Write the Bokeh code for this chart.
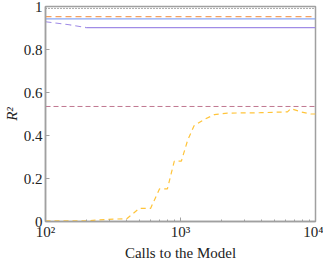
from bokeh.plotting import figure
from bokeh.models import FixedTicker, LogTicker, Range1d, CustomJSTickFormatter
from bokeh.embed import file_html
from bokeh.resources import INLINE

# ---- data ----
x_span = [100, 10000]
dotted_top = [0.991, 0.991]
orange_dash = [0.953, 0.953]
blue_solid = [0.942, 0.942]
purple_dash_x = [100, 150, 200]
purple_dash_y = [0.929, 0.915, 0.902]
purple_solid_x = [200, 10000]
purple_solid_y = [0.902, 0.902]
pink_dash = [0.535, 0.535]
yellow_x = [100, 200, 290, 400, 495, 600, 700, 800, 900, 1015, 1130, 1260,
            1500, 1780, 2230, 3900, 6200, 6560, 7800, 9200, 10000]
yellow_y = [0.003, 0.003, 0.010, 0.013, 0.061, 0.061, 0.152, 0.152, 0.281,
            0.281, 0.378, 0.445, 0.475, 0.497, 0.504, 0.506, 0.510, 0.525,
            0.510, 0.500, 0.500]
y_ticks = [0, 0.2, 0.4, 0.6, 0.8, 1]
y_tick_labels = ["0", "0.2", "0.4", "0.6", "0.8", "1"]
x_ticks = [100, 1000, 10000]
x_tick_labels = ["10²", "10³", "10⁴"]

FONT = "Liberation Serif"
GRAY = "#a0a0a0"

p = figure(width=317, height=257, x_axis_type="log",
           x_range=Range1d(100, 10000), y_range=Range1d(0, 1),
           output_backend="svg", toolbar_location=None,
           min_border_left=0, min_border_right=8, min_border_top=6,
           min_border_bottom=0)
p.frame_width = 270
p.frame_height = 215

p.line(x_span, dotted_top, line_color="#555555", line_dash="1 2", line_width=1)
p.line(x_span, orange_dash, line_color="#f4a060", line_dash="6 4", line_width=1.3)
p.line(x_span, blue_solid, line_color="#8aa8f5", line_width=1.2)
p.line(purple_dash_x, purple_dash_y, line_color="#a08ce6", line_dash="6 4", line_width=1.2)
p.line(purple_solid_x, purple_solid_y, line_color="#a08ce6", line_width=1.2)
p.line(x_span, pink_dash, line_color="#c07890", line_dash="5 3", line_width=1)
p.line(yellow_x, yellow_y, line_color="#ffc43a", line_dash="5 4", line_width=1.2)

p.grid.visible = False
p.outline_line_color = GRAY
p.outline_line_width = 1.5
p.outline_line_alpha = 1

for ax in (p.xaxis[0], p.yaxis[0]):
    ax.axis_line_color = GRAY
    ax.axis_line_width = 1.5
    ax.major_tick_line_color = GRAY
    ax.minor_tick_line_color = GRAY
    ax.major_tick_in = 4
    ax.major_tick_out = 0
    ax.minor_tick_in = 2
    ax.minor_tick_out = 0
    ax.major_label_text_font = FONT
    ax.major_label_text_font_size = "15px"
    ax.major_label_text_color = "#222222"
    ax.axis_label_text_font = FONT
    ax.axis_label_text_font_size = "15px"
    ax.axis_label_text_font_style = "normal"
    ax.axis_label_text_color = "#222222"

p.yaxis.ticker = FixedTicker(ticks=y_ticks)
p.yaxis.formatter = CustomJSTickFormatter(
    args=dict(tv=y_ticks, lb=y_tick_labels),
    code="""
    for (let i = 0; i < tv.length; i++) {
        if (Math.abs(tv[i] - tick) < 1e-9) return lb[i];
    }
    return '';
    """)
p.yaxis.minor_tick_line_color = None
p.yaxis.axis_label = "R²"
p.yaxis.axis_label_text_font_style = "italic"
p.yaxis.major_label_standoff = 3
p.yaxis.axis_label_standoff = 1

p.xaxis.ticker = LogTicker(desired_num_ticks=3, num_minor_ticks=10)
p.xaxis.formatter = CustomJSTickFormatter(
    args=dict(tv=x_ticks, lb=x_tick_labels),
    code="""
    for (let i = 0; i < tv.length; i++) {
        if (Math.abs(tv[i] - tick) < 1e-6 * tv[i]) return lb[i];
    }
    return '';
    """)
p.xaxis.axis_label = "Calls to the Model"
p.xaxis.major_label_standoff = 2
p.xaxis.axis_label_standoff = 2

open("out.html", "w").write(file_html(p, INLINE))
